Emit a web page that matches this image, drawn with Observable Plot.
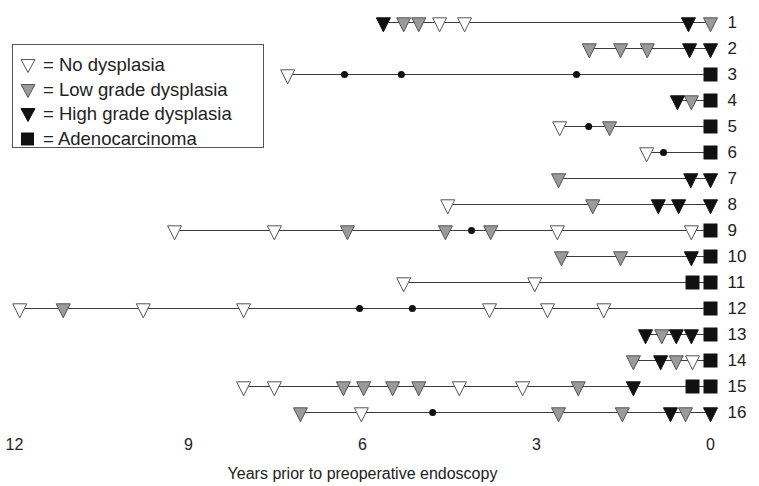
<!DOCTYPE html>
<html>
<head>
<meta charset="utf-8">
<script src="https://cdn.jsdelivr.net/npm/d3@7"></script>
<script src="https://cdn.jsdelivr.net/npm/@observablehq/plot@0.6"></script>
<style>
  body { margin: 0; background: #fff; font-family: "Liberation Sans", Arial, Helvetica, sans-serif; }
  #chart { position: relative; width: 759px; height: 486px; }
  .legend {
    position: absolute; left: 12px; top: 44px; width: 252px; height: 104px;
    box-sizing: border-box; border: 1px solid #555; background: #fff;
    padding: 8px 0 0 7px; font-size: 18.5px; color: #222;
  }
  .legend .item { display: flex; align-items: center; height: 24.5px; white-space: nowrap; }
  .legend svg { width: 16px; height: 16px; margin-right: 7px; flex: none; }
</style>
</head>
<body>
<div id="chart"></div>
<script>
// Patients (row labels, top to bottom)
const patients = ["1","2","3","4","5","6","7","8","9","10","11","12","13","14","15","16"];

// Years before the preoperative endoscopy at which each examination took place
const visitYears = [
  [5.64, 5.29, 5.03, 4.67, 4.24, 0.38, 0],
  [2.09, 1.55, 1.09, 0.36, 0],
  [7.29, 6.31, 5.33, 2.31, 0],
  [0.57, 0.33, 0],
  [2.60, 2.10, 1.74, 0],
  [1.10, 0.81, 0],
  [2.62, 0.34, 0],
  [4.53, 2.03, 0.90, 0.55, 0],
  [9.24, 7.52, 6.26, 4.57, 4.12, 3.79, 2.64, 0.33, 0],
  [2.57, 1.55, 0.33, 0],
  [5.29, 3.03, 0.31, 0],
  [11.91, 11.16, 9.78, 8.05, 6.05, 5.14, 3.81, 2.81, 1.84, 0],
  [1.12, 0.84, 0.59, 0.33, 0],
  [1.33, 0.86, 0.59, 0.31, 0],
  [8.05, 7.52, 6.33, 5.98, 5.48, 5.03, 4.33, 3.24, 2.28, 1.33, 0.31, 0],
  [7.07, 6.02, 4.79, 2.62, 1.52, 0.69, 0.43, 0]
];

// Finding at each examination:
// N = no dysplasia, L = low grade, H = high grade, A = adenocarcinoma, E = endoscopy (dot)
const visitFindings = [
  ["H","L","L","N","N","H","L"],
  ["L","L","L","H","H"],
  ["N","E","E","E","A"],
  ["H","L","A"],
  ["N","E","L","A"],
  ["N","E","A"],
  ["L","H","H"],
  ["N","L","H","H","H"],
  ["N","N","L","L","E","L","N","N","A"],
  ["L","L","H","A"],
  ["N","N","A","A"],
  ["N","L","N","N","E","E","N","N","N","A"],
  ["H","L","H","H","A"],
  ["L","H","L","N","A"],
  ["N","N","L","L","L","L","N","N","L","H","A","A"],
  ["L","N","E","L","L","H","L","H"]
];

const xTicks = [12, 9, 6, 3, 0];

const visits = patients.flatMap((p, i) =>
  visitYears[i].map((t, j) => ({patient: p, years: t, finding: visitFindings[i][j]}))
);
const spans = patients.map((p, i) => ({
  patient: p, from: d3.max(visitYears[i]), to: d3.min(visitYears[i])
}));

// Downward-pointing triangle symbol, centred on its centroid
const downTriangle = {
  draw(context, size) {
    const r = Math.sqrt(size / Math.PI);
    context.moveTo(-r, -0.67 * r);
    context.lineTo(r, -0.67 * r);
    context.lineTo(0, 1.33 * r);
    context.closePath();
  }
};

const triStyle = {
  N: {fill: "#fff", stroke: "#555"},
  L: {fill: "#9a9a9a", stroke: "#555"},
  H: {fill: "#111", stroke: "#111"}
};

const triangleMarks = Object.entries(triStyle).map(([code, s]) =>
  Plot.dot(visits.filter(d => d.finding === code), {
    x: "years", y: "patient", symbol: downTriangle, r: 7,
    fill: s.fill, stroke: s.stroke, strokeWidth: 1
  })
);

const chart = Plot.plot({
  width: 759,
  height: 486,
  marginLeft: 14,
  marginRight: 49,
  marginTop: 10,
  marginBottom: 56,
  style: {fontFamily: '"Liberation Sans", Arial, Helvetica, sans-serif', fontSize: "16px", color: "#222"},
  x: {domain: [12, 0]},
  y: {type: "point", domain: patients, range: [16, 418], padding: 0},
  marks: [
    Plot.ruleY(spans, {y: "patient", x1: "from", x2: "to", stroke: "#3a3a3a", strokeWidth: 1.2}),
    Plot.dot(visits.filter(d => d.finding === "E"), {x: "years", y: "patient", r: 3.5, fill: "#111"}),
    ...triangleMarks,
    Plot.dot(visits.filter(d => d.finding === "A"), {
      x: "years", y: "patient", symbol: "square", r: 7.9, fill: "#111"
    }),
    Plot.axisX({
      ticks: xTicks, tickSize: 0, tickPadding: 8, fontSize: 16,
      label: "Years prior to preoperative endoscopy", labelAnchor: "center",
      labelOffset: 48, labelArrow: "none"
    }),
    Plot.axisY({anchor: "right", tickSize: 0, tickPadding: 17, fontSize: 17, label: null})
  ]
});

const root = document.getElementById("chart");
root.appendChild(chart);

// Legend box drawn over the upper-left corner of the chart
const legendItems = [
  {shape: "tri", fill: "#fff", stroke: "#555", text: "= No dysplasia"},
  {shape: "tri", fill: "#9a9a9a", stroke: "#555", text: "= Low grade dysplasia"},
  {shape: "tri", fill: "#111", stroke: "#111", text: "= High grade dysplasia"},
  {shape: "sq", fill: "#111", stroke: "#111", text: "= Adenocarcinoma"}
];
const legend = document.createElement("div");
legend.className = "legend";
legend.innerHTML = legendItems.map(d => {
  const icon = d.shape === "tri"
    ? `<polygon points="1,2.5 15,2.5 8,15.5" fill="${d.fill}" stroke="${d.stroke}" stroke-width="1"/>`
    : `<rect x="1" y="1.5" width="13" height="13" fill="${d.fill}"/>`;
  return `<div class="item"><svg viewBox="0 0 16 16">${icon}</svg><span>${d.text}</span></div>`;
}).join("");
root.appendChild(legend);
</script>
</body>
</html>
